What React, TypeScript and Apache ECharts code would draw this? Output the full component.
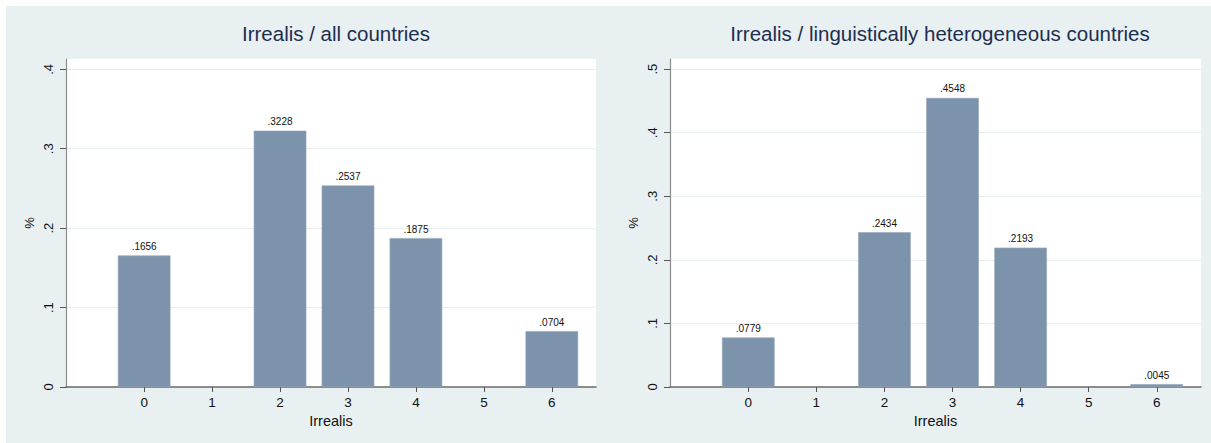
import React, { useEffect, useRef } from "react";
import * as echarts from "echarts";

const categories = [0, 1, 2, 3, 4, 5, 6];
const allCountries = [0.1656, null, 0.3228, 0.2537, 0.1875, null, 0.0704];
const heterogeneous = [0.0779, null, 0.2434, 0.4548, 0.2193, null, 0.0045];
const leftTicks = [0, 0.1, 0.2, 0.3, 0.4];
const rightTicks = [0, 0.1, 0.2, 0.3, 0.4, 0.5];
const titles = ["Irrealis / all countries", "Irrealis / linguistically heterogeneous countries"];
const xName = "Irrealis";
const yName = "%";

const FONT = "'Liberation Sans', Arial, sans-serif";
const BAR = "#7c93ab";
const BG = "#e8f0f2";

const fmtTick = (v: number) => (v === 0 ? "0" : v.toFixed(1).replace(/^0/, ""));
const fmtVal = (v: number) => v.toFixed(4).replace(/^0/, "");

export default function App() {
  const ref = useRef<HTMLDivElement>(null);
  useEffect(() => {
    if (!ref.current) return;
    const chart = echarts.init(ref.current, null, { renderer: "svg" });
    const grids = [
      { left: 66, right: 1211 - 596, top: 59, bottom: 443 - 387 },
      { left: 670, right: 1211 - 1201, top: 59, bottom: 443 - 387 },
    ];
    const yMax = [0.413, 0.516];
    const yTicks = [leftTicks, rightTicks];
    const datasets = [allCountries, heterogeneous];

    const xAxis = grids.map((_, i) => ({
      type: "value",
      gridIndex: i,
      min: -1.15,
      max: 6.65,
      name: xName,
      nameLocation: "middle",
      nameGap: 25,
      nameTextStyle: { fontFamily: FONT, fontSize: 14.5, color: "#111", verticalAlign: "top" },
      axisLine: { show: true, onZero: false, lineStyle: { color: "#6a6a6a", width: 1.5 } },
      axisTick: { show: true, length: 5, customValues: categories, lineStyle: { color: "#555" } },
      axisLabel: {
        customValues: categories,
        fontFamily: FONT,
        fontSize: 13.5,
        color: "#111",
        margin: 8,
        formatter: (v: number) => String(v),
      },
      splitLine: { show: false },
    }));

    const yAxis = grids.map((_, i) => ({
      type: "value",
      gridIndex: i,
      min: 0,
      max: yMax[i],
      name: yName,
      nameLocation: "middle",
      nameGap: 30,
      nameRotate: 90,
      nameTextStyle: { fontFamily: FONT, fontSize: 13, color: "#111" },
      axisLine: { show: true, onZero: false, lineStyle: { color: "#8c8c8c", width: 1.2 } },
      axisTick: { show: true, length: 6, customValues: yTicks[i], lineStyle: { color: "#555" } },
      axisLabel: {
        customValues: yTicks[i],
        rotate: 90,
        fontFamily: FONT,
        fontSize: 13,
        color: "#111",
        margin: 11,
        formatter: (v: number) => fmtTick(v),
      },
      splitLine: { show: true, lineStyle: { color: "#e6eef1", width: 1 } },
    }));

    const series = datasets.map((vals, i) => ({
      type: "bar",
      xAxisIndex: i,
      yAxisIndex: i,
      barWidth: 52.6,
      data: categories
        .map((c, j) => (vals[j] == null ? null : [c, vals[j]]))
        .filter((d) => d !== null),
      itemStyle: { color: BAR, borderColor: "#93a6ba", borderWidth: 0.6 },
      label: {
        show: true,
        position: "top",
        distance: 4,
        fontFamily: FONT,
        fontSize: 10,
        color: "#111",
        formatter: (p: any) => fmtVal(p.value[1]),
      },
    }));

    chart.setOption({
      animation: false,
      backgroundColor: "#ffffff",
      graphic: [
        {
          type: "rect",
          z: -10,
          silent: true,
          shape: { x: 6, y: 6, width: 1205, height: 437 },
          style: { fill: BG },
        },
        {
          type: "rect",
          z: -9,
          silent: true,
          shape: { x: 66, y: 59, width: 596 - 66, height: 387 - 59 },
          style: { fill: "#ffffff" },
        },
        {
          type: "rect",
          z: -9,
          silent: true,
          shape: { x: 670, y: 59, width: 1201 - 670, height: 387 - 59 },
          style: { fill: "#ffffff" },
        },
      ],
      title: titles.map((t, i) => ({
        text: t,
        left: i === 0 ? 331 : 935,
        top: 18,
        textAlign: "center",
        textStyle: { fontFamily: FONT, fontSize: 20.5, fontWeight: "normal", color: "#1e2e50" },
      })),
      grid: grids,
      xAxis,
      yAxis,
      series,
    });
    return () => chart.dispose();
  }, []);
  return (
    <div
      ref={ref}
      style={{ position: "fixed", left: 0, top: 0, width: 1211, height: 443, background: "#fff" }}
    />
  );
}
